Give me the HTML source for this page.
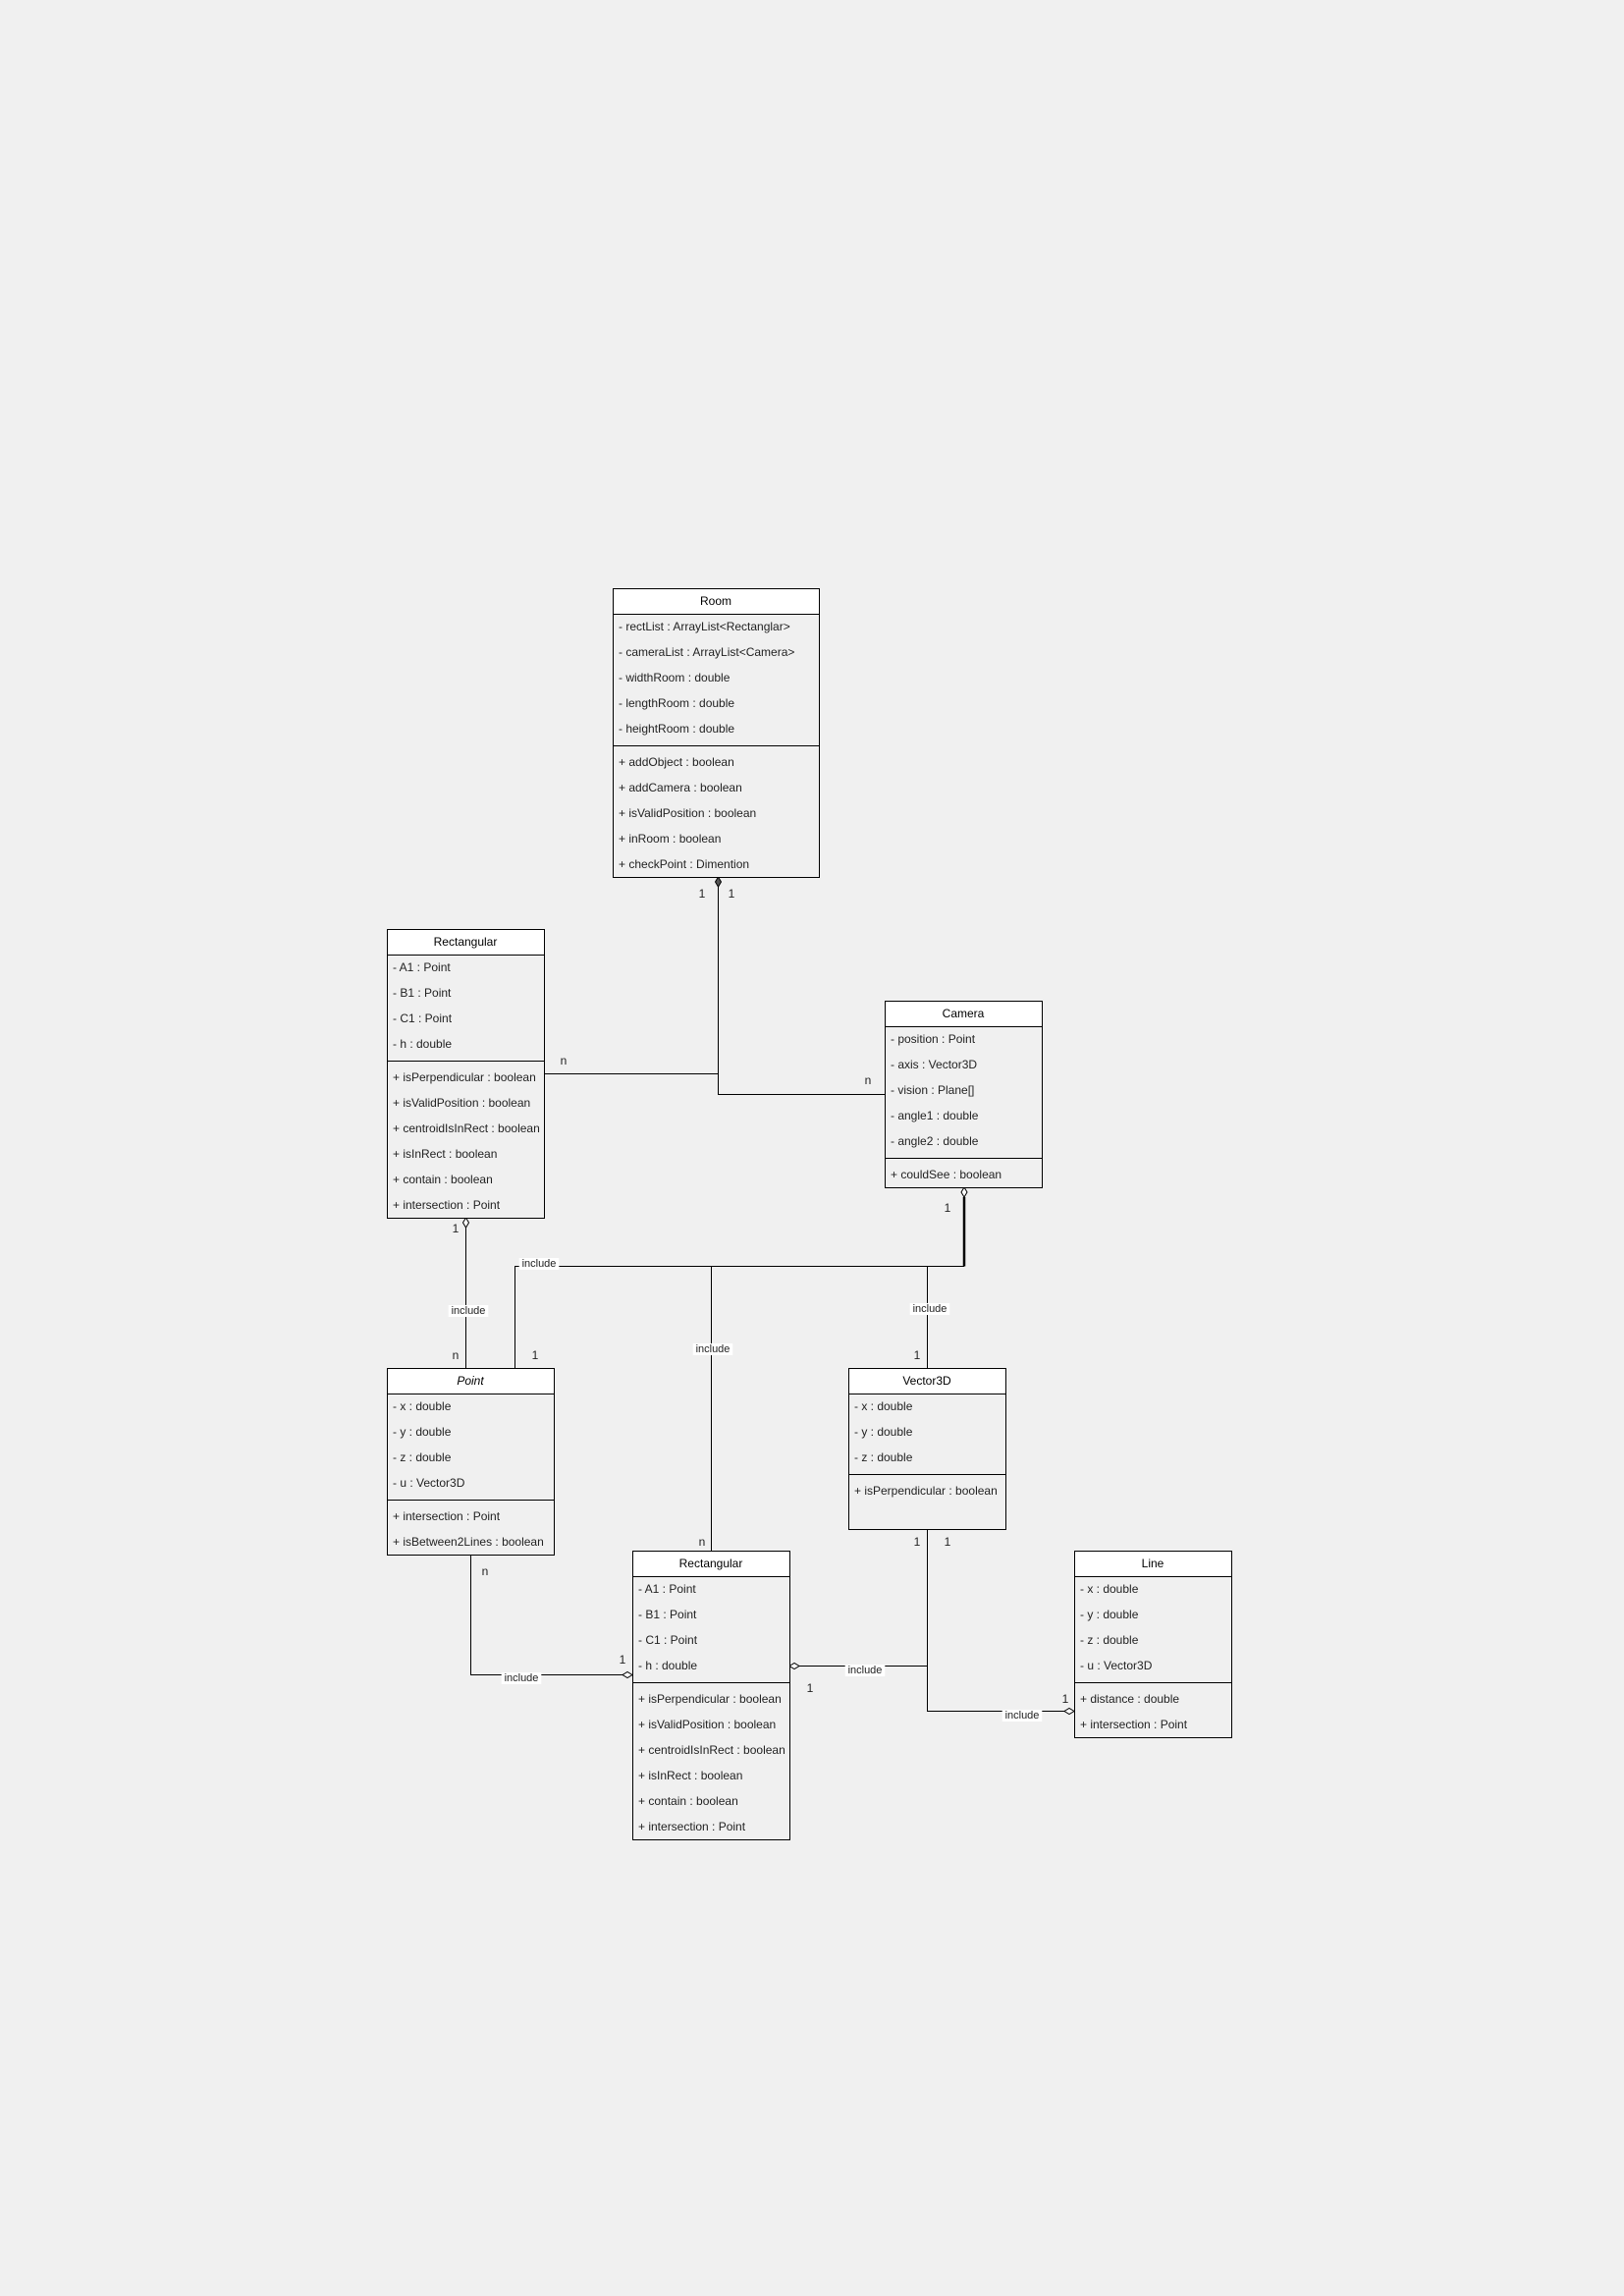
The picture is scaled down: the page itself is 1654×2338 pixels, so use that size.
<!DOCTYPE html>
<html><head><meta charset="utf-8"><style>
html,body{margin:0;padding:0;background:#f0f0f0;}
svg{display:block;font-family:"Liberation Sans",Arial,sans-serif;}
</style></head><body>
<svg id="s" width="1654" height="2338" xmlns="http://www.w3.org/2000/svg"></svg>
<script>
const S=document.getElementById('s');let h='';
function box(x,y,w,title,attrs,meths,extra,ital){
  let ht=26+attrs.length*26+8+meths.length*26+(extra||0);
  h+=`<rect x="${x+.5}" y="${y+.5}" width="${w}" height="${ht}" fill="#f0f0f0" stroke="#000"/>`;
  h+=`<rect x="${x+.5}" y="${y+.5}" width="${w}" height="26" fill="#fff" stroke="#000"/>`;
  h+=`<text x="${x+w/2}" y="${y+17}" font-size="12" text-anchor="middle"${ital?' font-style="italic"':''}>${title}</text>`;
  let yy=y+26;
  attrs.forEach(a=>{h+=`<text x="${x+6}" y="${yy+17}" font-size="12" fill="#222">${a}</text>`;yy+=26;});
  h+=`<line x1="${x}" y1="${yy+4.5}" x2="${x+w}" y2="${yy+4.5}" stroke="#000"/>`;yy+=8;
  meths.forEach(a=>{h+=`<text x="${x+6}" y="${yy+17}" font-size="12" fill="#222">${a}</text>`;yy+=26;});
}
function L(pts,w){h+=`<polyline points="${pts}" fill="none" stroke="#000" stroke-width="${w||1}"/>`;}
function T(x,y,t,bg){
  if(bg){h+=`<rect x="${x-t.length*2.9}" y="${y-9}" width="${t.length*5.8}" height="12" fill="#fff"/>`;}
  h+=`<text x="${x}" y="${y}" font-size="${bg?11:12}" text-anchor="middle" fill="#222">${t}</text>`;
}
function DV(x,y,dir,f){
  h+=`<polygon points="${x},${y} ${x+3},${y+dir*5} ${x},${y+dir*10} ${x-3},${y+dir*5}" fill="${f||'#fff'}" stroke="#000"/>`;}
function DH(x,y,dir){
  h+=`<polygon points="${x},${y} ${x+dir*5},${y-3} ${x+dir*10},${y} ${x+dir*5},${y+3}" fill="#fff" stroke="#000"/>`;}
const rect=['- A1 : Point','- B1 : Point','- C1 : Point','- h : double'];
const rectM=['+ isPerpendicular : boolean','+ isValidPosition : boolean','+ centroidIsInRect : boolean','+ isInRect : boolean','+ contain : boolean','+ intersection : Point'];
L('731.5,903 731.5,1114.5 901,1114.5');
L('554,1093.5 731.5,1093.5');
DV(731.5,893,1,'#555');
L('474.5,1250 474.5,1393');DV(474.5,1240,1);
L('524.5,1393 524.5,1289.5 982,1289.5');
L('982,1289.5 982,1219',2.5);DV(982,1209,1);
L('724.5,1289.5 724.5,1579');
L('944.5,1289.5 944.5,1393');
L('479.5,1583 479.5,1705.5 634,1705.5');DH(644,1705.5,-1);
L('944.5,1557 944.5,1742.5 1084,1742.5');DH(1094,1742.5,-1);
L('944.5,1696.5 814,1696.5');DH(804,1696.5,1);
box(624,599,210,'Room',['- rectList :  ArrayList&lt;Rectanglar&gt;','- cameraList :  ArrayList&lt;Camera&gt;','- widthRoom : double','- lengthRoom : double','- heightRoom : double'],['+ addObject : boolean','+ addCamera : boolean','+ isValidPosition : boolean','+ inRoom : boolean','+ checkPoint : Dimention']);
box(394,946,160,'Rectangular',rect,rectM);
box(901,1019,160,'Camera',['- position : Point','- axis : Vector3D','- vision : Plane[]','- angle1 : double','- angle2 : double'],['+ couldSee : boolean']);
box(394,1393,170,'Point',['- x : double','- y : double','- z : double','- u : Vector3D'],['+ intersection : Point','+ isBetween2Lines : boolean'],0,true);
box(864,1393,160,'Vector3D',['- x : double','- y : double','- z : double'],['+ isPerpendicular : boolean'],26);
box(644,1579,160,'Rectangular',rect,rectM);
box(1094,1579,160,'Line',['- x : double','- y : double','- z : double','- u : Vector3D'],['+ distance : double','+ intersection : Point']);
T(715,914,'1');T(745,914,'1');T(574,1084,'n');T(884,1104,'n');
T(464,1255,'1');T(965,1234,'1');
T(477,1338,'include',1);T(549,1290,'include',1);T(726,1377,'include',1);T(947,1336,'include',1);
T(464,1384,'n');T(545,1384,'1');T(934,1384,'1');
T(715,1574,'n');T(934,1574,'1');T(965,1574,'1');
T(494,1604,'n');T(634,1694,'1');
T(531,1712,'include',1);T(881,1704,'include',1);T(825,1723,'1');
T(1041,1750,'include',1);T(1085,1734,'1');
S.innerHTML=h;
</script>
</body></html>
